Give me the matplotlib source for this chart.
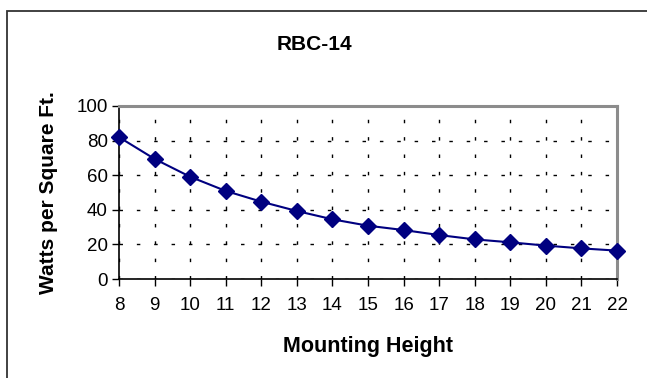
import matplotlib
matplotlib.use("Agg")
import matplotlib.pyplot as plt
from matplotlib.patches import Rectangle

mounting_height = [8, 9, 10, 11, 12, 13, 14, 15, 16, 17, 18, 19, 20, 21, 22]
watts_per_sqft = [82, 69.4, 59.1, 50.9, 44.7, 39.3, 34.5, 30.8, 28.3, 25.4, 22.9, 21.2, 19.3, 17.7, 16.4]
y_ticks = [0, 20, 40, 60, 80, 100]

plt.rcParams['font.family'] = ['Liberation Sans', 'DejaVu Sans']

W, H = 647, 378
fig = plt.figure(figsize=(W / 100, H / 100), dpi=100)
fig.patch.set_facecolor('white')

# outer chart frame (left and top edges visible)
fig.add_artist(Rectangle((7 / W, -0.1), 1.2, 1 - 11 / H + 0.1, transform=fig.transFigure,
                         fill=False, edgecolor='#333333', linewidth=1.3))

ax = fig.add_axes([119 / W, 1 - 279 / H, (617 - 119) / W, (279 - 106) / H])
ax.plot(mounting_height, watts_per_sqft, color='#000080', linewidth=1.5,
        marker='D', markersize=8.5, markerfacecolor='#000080', markeredgecolor='#000080',
        clip_on=False, zorder=5)

ax.set_xlim(8, 22)
ax.set_ylim(0, 100)
ax.set_xticks(mounting_height)
ax.set_xticklabels([str(v) for v in mounting_height])
ax.set_yticks(y_ticks)
ax.set_yticklabels([str(v) for v in y_ticks])

ax.grid(True, color='black', linewidth=1.0, linestyle=(0, (2.5, 10)))
ax.set_axisbelow(True)

for s in ['top', 'right']:
    ax.spines[s].set_color('#8c8c8c')
    ax.spines[s].set_linewidth(2.2)
for s in ['left', 'bottom']:
    ax.spines[s].set_color('black')
    ax.spines[s].set_linewidth(1.2)

ax.tick_params(axis='both', direction='out', length=5, width=1, labelsize=13.5, colors='black')
ax.tick_params(axis='y', pad=3)
ax.tick_params(axis='x', pad=8)

ax.set_xlabel('Mounting Height', fontsize=15.5, fontweight='bold', labelpad=16)
ax.set_ylabel('Watts per Square Ft.', fontsize=15, fontweight='bold', labelpad=13)
fig.text(314 / W, 1 - 45 / H, 'RBC-14', fontsize=15, fontweight='bold', ha='center', va='center')

fig.savefig('out.png', dpi=100)
